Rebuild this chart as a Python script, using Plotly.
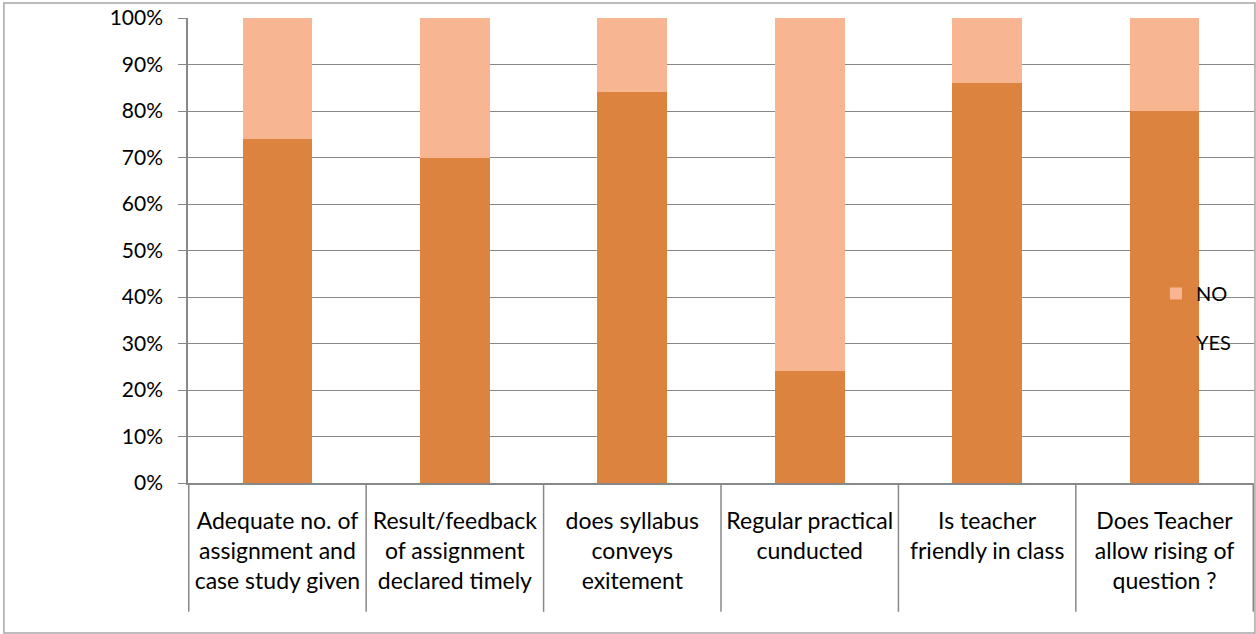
import plotly.graph_objects as go

categories = [
    "Adequate no. of<br>assignment and<br>case study given",
    "Result/feedback<br>of assignment<br>declared timely",
    "does syllabus<br>conveys<br>exitement",
    "Regular practical<br>cunducted",
    "Is teacher<br>friendly in class",
    "Does Teacher<br>allow rising of<br>question ?",
]
yes_share = [0.74, 0.70, 0.84, 0.24, 0.86, 0.80]
no_share = [0.26, 0.30, 0.16, 0.76, 0.14, 0.20]

grid = "#888888"
font = "Lato, 'Open Sans', sans-serif"

fig = go.Figure()
fig.add_trace(go.Bar(x=categories, y=yes_share, name="YES", legendgroup="yes",
                     legendrank=2,
                     marker=dict(color="#DC843F", line=dict(width=0))))
fig.add_trace(go.Bar(x=categories, y=no_share, name="NO", legendgroup="no",
                     legendrank=1,
                     marker=dict(color="#F8B591", line=dict(width=0))))

# category separators below the axis, at the boundaries between categories
for i in range(len(categories) + 1):
    fig.add_shape(type="line", xref="x", yref="paper",
                  x0=i - 0.5, x1=i - 0.5, y0=0, y1=-0.277,
                  line=dict(color=grid, width=1.5))

# outer chart border
fig.add_shape(type="rect", xref="paper", yref="paper",
              x0=-0.1727, x1=1.0009, y0=-0.3226, y1=1.0323,
              line=dict(color="#A6A6A6", width=1.5))

fig.update_layout(
    width=1256, height=634,
    barmode="stack", bargap=0.606,
    plot_bgcolor="white", paper_bgcolor="white",
    margin=dict(l=188, r=2, t=18, b=151),
    font=dict(family=font, size=20, color="black"),
    showlegend=True,
    legend=dict(x=0.908, y=0.355, xanchor="left", yanchor="middle",
                traceorder="grouped", tracegroupgap=20,
                bgcolor="rgba(0,0,0,0)", font=dict(size=20),
                itemwidth=30),
    xaxis=dict(showline=True, linecolor=grid, linewidth=1.5, ticks="",
               showgrid=False, tickfont=dict(size=23), ticklabelstandoff=17,
               fixedrange=True),
    yaxis=dict(range=[0, 1], dtick=0.1, tickformat=".0%", showgrid=True,
               gridcolor=grid, gridwidth=1, showline=True, linecolor=grid,
               linewidth=1.5, ticks="outside", ticklen=8, tickcolor=grid,
               tickfont=dict(size=21), ticklabelstandoff=11,
               zeroline=False, fixedrange=True),
)

fig.write_html("out.html", config={"displayModeBar": False},
               post_script="document.body.style.margin='0';")
